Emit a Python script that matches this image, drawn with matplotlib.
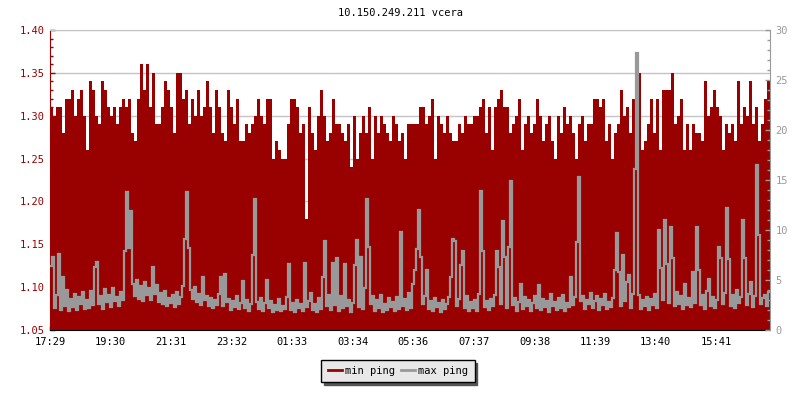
import numpy as np
import matplotlib
matplotlib.use("Agg")
import matplotlib.pyplot as plt
from matplotlib.ticker import MultipleLocator, FormatStrFormatter
from matplotlib.lines import Line2D

title = "10.150.249.211 vcera"
span_minutes = 1440
tick_minutes = [0, 121, 242, 363, 484, 605, 727, 848, 969, 1090, 1211, 1332]
tick_labels = ["17:29", "19:30", "21:31", "23:32", "01:33", "03:34",
               "05:36", "07:37", "09:38", "11:39", "13:40", "15:41"]
legend_labels = ["min ping", "max ping"]

# min ping (left axis), one value per 6 minutes
min_ping = [
    1.31, 1.30, 1.31, 1.31, 1.28, 1.32, 1.32, 1.33, 1.30, 1.32,
    1.33, 1.30, 1.26, 1.34, 1.33, 1.30, 1.29, 1.34, 1.33, 1.31,
    1.30, 1.31, 1.29, 1.31, 1.32, 1.31, 1.32, 1.28, 1.27, 1.32,
    1.36, 1.33, 1.36, 1.31, 1.35, 1.29, 1.29, 1.31, 1.34, 1.33,
    1.31, 1.28, 1.35, 1.35, 1.32, 1.33, 1.29, 1.32, 1.30, 1.33,
    1.30, 1.31, 1.34, 1.31, 1.28, 1.33, 1.31, 1.28, 1.27, 1.33,
    1.31, 1.29, 1.32, 1.27, 1.27, 1.29, 1.28, 1.29, 1.30, 1.32,
    1.30, 1.29, 1.32, 1.32, 1.25, 1.27, 1.26, 1.25, 1.25, 1.29,
    1.32, 1.32, 1.31, 1.28, 1.29, 1.18, 1.31, 1.28, 1.26, 1.30,
    1.33, 1.30, 1.27, 1.28, 1.32, 1.29, 1.29, 1.28, 1.27, 1.29,
    1.24, 1.30, 1.25, 1.28, 1.30, 1.28, 1.31, 1.25, 1.30, 1.28,
    1.30, 1.29, 1.28, 1.27, 1.30, 1.29, 1.27, 1.28, 1.25, 1.29,
    1.29, 1.29, 1.29, 1.31, 1.31, 1.29, 1.30, 1.32, 1.25, 1.30,
    1.29, 1.28, 1.30, 1.28, 1.27, 1.27, 1.29, 1.28, 1.30, 1.29,
    1.29, 1.30, 1.30, 1.31, 1.32, 1.28, 1.31, 1.26, 1.31, 1.32,
    1.33, 1.31, 1.31, 1.28, 1.29, 1.30, 1.32, 1.26, 1.29, 1.30,
    1.28, 1.29, 1.32, 1.30, 1.27, 1.29, 1.30, 1.27, 1.25, 1.30,
    1.28, 1.31, 1.29, 1.30, 1.28, 1.25, 1.29, 1.30, 1.27, 1.29,
    1.29, 1.32, 1.32, 1.31, 1.32, 1.27, 1.29, 1.25, 1.28, 1.29,
    1.33, 1.30, 1.31, 1.28, 1.32, 1.32, 1.35, 1.26, 1.27, 1.29,
    1.32, 1.28, 1.32, 1.26, 1.33, 1.33, 1.33, 1.35, 1.29, 1.30,
    1.32, 1.26, 1.29, 1.26, 1.29, 1.28, 1.28, 1.27, 1.34, 1.30,
    1.31, 1.33, 1.31, 1.30, 1.26, 1.29, 1.28, 1.29, 1.27, 1.34,
    1.29, 1.31, 1.30, 1.34, 1.29, 1.31, 1.27, 1.29, 1.32, 1.34,
]

# max ping (right axis), one value per 4 minutes
max_ping = [
    6.4, 7.3, 2.2, 3.5, 7.6, 2.0, 5.3, 2.4, 4.0, 1.9, 3.1, 2.3, 3.6, 2.0, 3.3, 2.6, 3.8, 2.1, 3.0, 2.2,
    3.9, 2.5, 6.3, 6.8, 2.6, 3.4, 2.1, 4.1, 2.8, 3.5, 2.3, 4.2, 2.9, 3.3, 2.4, 3.8, 3.0, 7.9, 13.8, 8.2,
    11.9, 4.6, 3.4, 5.0, 3.1, 4.4, 2.9, 4.8, 3.5, 4.2, 3.0, 6.3, 3.6, 4.5, 2.8, 3.7, 2.6, 3.9, 2.4, 3.2,
    2.7, 3.5, 2.3, 3.8, 2.6, 3.3, 4.4, 9.1, 13.8, 8.2, 4.0, 3.1, 4.3, 2.8, 3.6, 2.5, 5.3, 3.0, 3.4, 2.4,
    3.2, 2.2, 3.0, 2.5, 3.6, 5.3, 2.4, 5.6, 2.8, 3.1, 2.0, 2.9, 2.3, 3.4, 2.1, 2.7, 4.9, 2.2, 3.0, 1.9,
    2.6, 7.5, 13.1, 2.8, 2.1, 3.2, 1.9, 2.7, 5.0, 2.2, 2.9, 1.8, 2.5, 2.0, 3.1, 1.9, 2.4, 2.1, 3.3, 6.6,
    2.0, 2.7, 1.8, 3.0, 2.2, 2.6, 1.9, 6.7, 2.3, 2.9, 3.7, 2.0, 2.6, 1.8, 3.2, 2.1, 5.3, 8.9, 2.4, 3.5,
    2.0, 6.7, 2.5, 7.2, 1.9, 3.4, 2.2, 6.6, 2.4, 3.0, 1.8, 2.7, 6.5, 9.0, 2.3, 7.3, 2.1, 4.2, 13.1, 8.3,
    2.6, 3.4, 1.9, 3.0, 2.2, 3.5, 1.8, 2.6, 2.0, 3.2, 2.3, 2.8, 1.9, 3.3, 2.1, 9.8, 2.4, 3.1, 2.0, 3.7,
    2.2, 4.6, 6.0, 8.1, 12.0, 7.3, 2.6, 3.4, 6.0, 2.1, 2.9, 1.9, 3.2, 2.3, 2.7, 1.8, 3.0, 2.1, 2.6, 3.3,
    5.3, 9.1, 8.9, 2.4, 3.1, 6.5, 7.9, 2.2, 3.4, 1.9, 2.8, 2.2, 3.0, 1.9, 3.6, 13.9, 7.9, 2.3, 2.9, 2.0,
    3.1, 2.4, 3.5, 7.9, 6.3, 2.6, 10.9, 7.3, 2.2, 8.3, 14.9, 2.5, 3.2, 1.9, 2.8, 4.6, 2.1, 3.3, 2.4, 3.0,
    1.9, 2.7, 3.4, 2.2, 4.5, 2.0, 3.1, 2.3, 2.9, 1.8, 3.6, 2.4, 2.8, 2.0, 3.2, 2.2, 3.5, 1.9, 2.7, 2.3,
    5.3, 2.5, 3.3, 8.8, 15.3, 2.9, 3.4, 2.1, 3.0, 2.6, 3.7, 2.2, 2.9, 3.4, 2.0, 3.1, 2.5, 3.6, 2.1, 2.8,
    2.3, 3.2, 6.0, 9.7, 5.8, 2.4, 7.5, 2.9, 4.8, 5.5, 2.2, 3.6, 16.1, 27.7, 3.5, 2.1, 3.0, 2.4, 3.3, 2.0,
    3.1, 2.5, 3.6, 2.2, 10.0, 6.2, 3.0, 11.0, 6.6, 2.7, 10.3, 7.2, 2.4, 3.8, 2.6, 3.4, 2.1, 4.6, 2.5, 3.2,
    2.3, 5.8, 2.7, 10.3, 6.0, 2.5, 3.5, 2.1, 3.9, 5.1, 2.4, 3.3, 2.2, 3.0, 8.3, 7.2, 2.6, 3.7, 12.2, 7.1,
    2.4, 3.5, 2.2, 4.0, 2.7, 3.3, 11.0, 7.2, 2.5, 3.6, 4.8, 2.3, 3.4, 16.5, 9.5, 2.6, 3.2, 3.5, 2.4, 3.8,
]

RED = "#990000"
GRAY = "#999999"
GRID = "#c4c4c4"

plt.rcParams["font.family"] = ["DejaVu Sans Mono"]
plt.rcParams["font.size"] = 7.5

fig = plt.figure(figsize=(8, 4), dpi=100)
ax = fig.add_axes([50 / 800, 70 / 400, 720 / 800, 300 / 400])

edges_min = np.linspace(0, span_minutes, len(min_ping) + 1)
edges_max = np.linspace(0, span_minutes, len(max_ping) + 1)

for g in np.arange(1.05, 1.401, 0.05):
    ax.axhline(g, color=GRID, lw=1, zorder=1)

ax.stairs(min_ping, edges_min, baseline=1.05, fill=True, color=RED, lw=0, zorder=2)
ax.set_xlim(0, span_minutes)
ax.set_ylim(1.05, 1.40)
ax.yaxis.set_major_locator(MultipleLocator(0.05))
ax.yaxis.set_minor_locator(MultipleLocator(0.01))
ax.yaxis.set_major_formatter(FormatStrFormatter("%.2f"))
ax.set_xticks(tick_minutes)
ax.set_xticklabels(tick_labels)

ax.tick_params(axis="y", which="major", direction="in", length=3.8, width=1,
               color=RED, labelcolor=RED, pad=3.5)
ax.tick_params(axis="y", which="minor", direction="in", length=2.2, width=1, color=RED)
ax.tick_params(axis="x", which="major", direction="in", length=3.2, width=1,
               color="black", labelcolor="black", pad=5)

ax.spines["left"].set_color(RED)
ax.spines["bottom"].set_color("black")
ax.spines["right"].set_visible(False)
ax.spines["top"].set_color(GRID)

ax2 = ax.twinx()
ax2.stairs(max_ping, edges_max, baseline=None, color=GRAY, lw=1.6, zorder=3)
ax2.set_ylim(0, 30)
ax2.yaxis.set_major_locator(MultipleLocator(5))
ax2.yaxis.set_minor_locator(MultipleLocator(1))
ax2.tick_params(axis="y", which="major", direction="in", length=3.8, width=1,
                color=GRAY, labelcolor=GRAY, pad=4)
ax2.tick_params(axis="y", which="minor", direction="in", length=2.2, width=1, color=GRAY)
for s in ["left", "bottom", "top"]:
    ax2.spines[s].set_visible(False)
ax2.spines["right"].set_color(GRAY)

fig.text(0.5, 1 - 13 / 400, title, ha="center", va="center", color="black", fontsize=7.5)

handles = [Line2D([0], [0], color=RED, lw=2), Line2D([0], [0], color=GRAY, lw=2)]
leg = fig.legend(handles, legend_labels, loc="center", bbox_to_anchor=(398 / 800, 1 - 371 / 400),
                 ncol=2, frameon=True, fancybox=False,
                 shadow={"color": "#555555", "alpha": 1},
                 edgecolor="black", facecolor="#e8e8e8", framealpha=1,
                 handlelength=1.4, handletextpad=0.3, columnspacing=0.5,
                 borderpad=0.6, fontsize=7.5)
leg.get_frame().set_linewidth(1.0)

fig.savefig("out.png", dpi=100)
